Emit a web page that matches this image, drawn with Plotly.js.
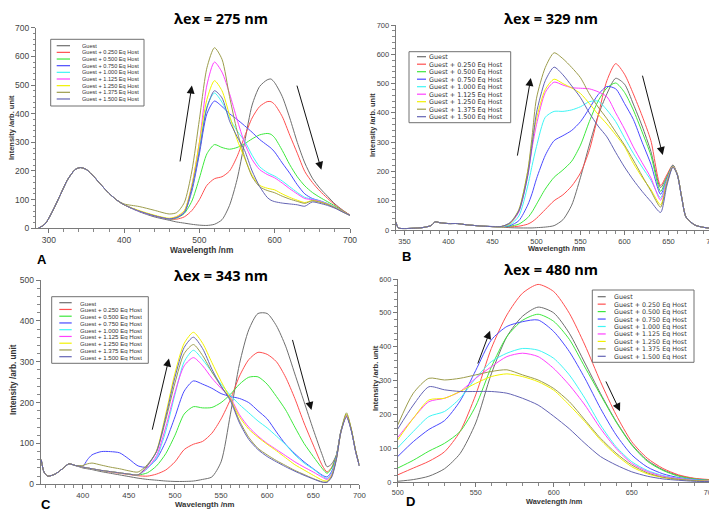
<!DOCTYPE html>
<html><head><meta charset="utf-8">
<script src="https://cdn.plot.ly/plotly-3.0.1.min.js"></script>
<style>html,body{margin:0;padding:0;overflow:hidden;background:#fff;width:709px;height:511px}</style>
</head><body><div id="chart" style="width:730px;height:511px"></div>
<script>
// ---------- series names ----------
const seriesNames = ['Guest','Guest + 0.250 Eq Host','Guest + 0.500 Eq Host','Guest + 0.750 Eq Host',
  'Guest + 1.000 Eq Host','Guest + 1.125 Eq Host','Guest + 1.250 Eq Host','Guest + 1.375 Eq Host','Guest + 1.500 Eq Host'];
const panelTitles = ['λex = 275 nm','λex = 329 nm','λex = 343 nm','λex = 480 nm'];
const panelLetters = ['A','B','C','D'];

// ---------- Panel A (λex = 275 nm) ----------
const xA = [286,295,305,315,325,335,342,350,360,370,380,390,400,420,440,460,470,480,490,500,510,520,530,540,550,560,570,580,590,595,600,610,620,630,640,650,660,670,680,690,700];
const A_g    = [0,15,60,115,170,205,212,205,180,150,122,99,82,58,40,28,22,18,14,11,10,14,30,80,170,300,430,495,518,521,508,460,385,300,228,175,140,112,85,64,46];
const A_025  = [0,15,60,115,170,205,212,205,180,150,122,99,82,60,44,32,32,40,62,100,150,173,180,200,250,320,385,425,442,442,432,390,325,262,198,160,130,105,82,63,46];
const A_050  = [0,15,60,115,170,205,212,205,180,150,122,99,82,60,44,32,36,52,95,175,260,292,282,276,282,295,312,326,331,328,316,272,222,180,148,125,108,93,78,61,45];
const A_075  = [0,15,60,115,170,205,212,205,180,150,122,99,82,60,44,33,38,55,130,260,400,444,425,400,380,358,335,310,290,280,266,228,192,152,120,104,96,86,73,59,45];
const A_100  = [0,15,60,115,170,205,212,205,180,150,122,99,82,60,44,33,38,57,140,275,425,472,440,385,340,305,255,215,195,188,182,165,145,125,108,102,95,86,73,59,45];
const A_1125 = [0,15,60,115,170,205,212,205,180,150,122,99,82,60,44,33,40,60,150,300,500,580,545,470,380,298,240,205,188,182,176,158,138,120,104,100,94,85,73,59,45];
const A_125  = [0,15,60,115,170,205,212,205,180,150,122,99,82,62,46,35,42,62,150,300,450,515,480,395,310,245,185,150,140,137,134,120,108,98,90,97,92,84,72,58,45];
const A_1375 = [0,15,60,115,170,205,212,205,180,150,122,99,85,76,63,50,55,90,200,380,560,630,590,460,340,250,180,145,132,128,124,112,102,94,87,96,91,83,72,58,45];
const A_150  = [0,15,60,115,170,205,212,205,180,150,122,99,82,60,44,33,38,55,140,270,420,480,455,375,320,272,200,146,108,98,93,88,85,82,77,92,87,80,70,57,45];

// ---------- Panel B (λex = 329 nm) ----------
const xB = [340,343,350,360,370,380,385,390,400,410,420,440,460,470,480,490,495,500,510,520,530,540,550,560,570,580,590,600,610,620,630,641,648,655,660,665,670,680,690,700];
const B_g    = [28,7,5,6,8,15,28,25,22,22,18,13,10,8,7,7,7,8,10,15,35,85,180,290,390,465,518,498,430,355,268,145,182,220,188,110,42,16,9,5];
const B_025  = [28,7,5,6,8,15,28,25,22,22,18,13,11,11,13,20,28,40,70,100,120,150,195,272,390,510,568,532,465,390,305,152,188,222,190,112,44,17,9,5];
const B_050  = [28,7,5,6,8,15,28,25,22,22,18,13,11,13,20,42,62,88,140,180,205,235,290,370,440,485,502,470,410,335,255,132,178,221,190,112,44,17,9,5];
const B_075  = [28,7,5,6,8,15,28,25,22,22,18,13,12,15,32,85,125,175,255,305,322,340,370,415,462,490,482,432,378,300,225,122,172,220,190,112,44,17,9,5];
const B_100  = [28,7,5,6,8,15,28,25,22,22,18,13,12,18,48,150,220,285,385,405,405,410,421,438,440,410,370,315,262,215,170,110,168,218,190,112,44,17,9,5];
const B_1125 = [28,7,5,6,8,15,28,25,22,22,18,13,12,22,62,185,280,360,470,505,495,486,484,482,472,455,400,345,284,230,178,102,165,218,190,112,44,17,9,5];
const B_125  = [28,7,5,6,8,15,28,25,22,22,18,13,12,22,68,200,300,380,480,515,500,485,466,432,395,362,325,285,228,180,138,86,160,217,190,112,44,17,9,5];
const B_1375 = [28,7,5,6,8,15,28,25,22,22,18,13,12,25,70,200,320,450,555,605,585,555,520,465,420,380,335,290,239,185,133,78,158,216,190,112,44,17,9,5];
const B_150  = [28,7,5,6,8,15,28,25,22,22,18,13,12,25,65,185,290,400,510,556,530,492,452,400,355,318,265,215,171,132,97,60,150,214,188,110,44,17,9,5];

// ---------- Panel C (λex = 343 nm) ----------
const xC = [355,358,362,370,378,385,392,400,405,410,420,430,440,450,460,470,480,490,500,510,520,530,540,550,560,570,580,590,600,610,620,630,640,650,660,665,670,675,680,686,691,696,700];
const C_g    = [60,30,20,25,38,50,46,40,38,36,31,27,23,19,15,12,10,8,7,7,8,12,18,55,170,295,378,418,418,388,338,270,202,134,70,43,50,72,130,168,135,80,45];
const C_025  = [60,30,20,25,38,50,46,42,40,38,34,30,27,24,21,20,25,35,55,85,98,105,125,160,207,265,305,323,318,300,262,210,150,96,45,30,42,70,130,168,135,80,45];
const C_050  = [60,30,20,25,38,50,46,42,40,38,34,31,28,25,23,28,45,75,120,172,190,187,188,200,220,245,262,263,245,215,182,140,100,68,38,27,40,70,130,168,135,80,45];
const C_075  = [60,30,20,25,38,50,46,44,60,72,80,80,77,62,45,42,62,105,165,228,253,245,235,222,215,210,200,180,160,128,98,75,55,38,22,18,32,68,130,170,135,80,45];
const C_100  = [60,30,20,25,38,50,46,42,40,38,34,31,28,25,23,38,65,130,220,300,328,305,275,245,218,195,175,155,138,118,97,72,52,37,20,14,28,65,128,170,135,80,45];
const C_1125 = [60,30,20,25,38,50,46,42,40,38,34,31,28,25,23,40,70,140,225,290,310,290,260,235,212,170,140,118,100,85,70,55,42,30,17,12,25,63,128,168,135,80,45];
const C_125  = [60,30,20,25,38,50,46,42,40,38,34,31,28,25,23,45,82,172,272,345,372,345,298,252,210,165,135,115,98,82,65,48,35,22,10,8,22,62,128,172,137,82,46];
const C_1375 = [60,30,20,25,38,50,46,46,50,52,47,42,38,33,30,48,80,158,248,320,342,315,275,240,208,155,115,88,72,58,46,34,24,14,6,6,20,62,130,175,138,82,46];
const C_150  = [60,30,20,25,38,50,46,42,40,38,34,31,28,25,23,45,80,165,262,335,360,332,282,240,205,150,110,85,68,55,43,32,22,13,5,5,18,60,128,165,133,80,45];

// ---------- Panel D (λex = 480 nm) ----------
const xD = [500,510,520,530,540,550,560,570,580,590,600,610,620,630,640,650,660,670,680,690,700];
const D_g    = [3,8,18,40,85,175,320,430,490,517,500,440,352,262,180,112,65,37,20,11,6];
const D_025  = [22,42,62,90,150,258,395,494,558,584,563,499,405,297,199,120,71,41,22,12,8];
const D_050  = [42,65,92,115,150,225,340,430,478,496,475,422,340,258,178,110,62,35,18,10,6];
const D_075  = [76,120,156,182,240,330,420,460,474,479,445,386,307,218,140,81,45,25,14,8,5];
const D_100  = [102,150,194,209,248,307,356,381,395,390,366,317,248,169,105,61,35,20,12,7,5];
const D_1125 = [132,189,238,248,268,307,341,371,381,371,336,287,228,159,100,56,32,18,11,6,4];
const D_125  = [125,189,243,248,268,292,312,320,312,297,272,228,179,125,81,46,25,14,8,5,3];
const D_1375 = [169,263,307,302,307,317,327,332,317,302,277,238,184,130,86,51,28,15,9,5,3];
const D_150  = [157,228,282,273,268,268,268,263,248,228,195,158,115,76,51,31,18,10,6,3,2];

// ---------- styles ----------
const seriesColors = ['#6e6e6e','#ff4f4f','#3de83d','#4a4aff','#3ff5f5','#ff40ff','#f2f200','#9c9c4c','#6464b4'];
const W = 730, H = 511;
const fx = p => p / W, fy = p => 1 - p / H;

const panels = [
  {x: xA, ys: [A_g,A_025,A_050,A_075,A_100,A_1125,A_125,A_1375,A_150]},
  {x: xB, ys: [B_g,B_025,B_050,B_075,B_100,B_1125,B_125,B_1375,B_150]},
  {x: xC, ys: [C_g,C_025,C_050,C_075,C_100,C_1125,C_125,C_1375,C_150]},
  {x: xD, ys: [D_g,D_025,D_050,D_075,D_100,D_1125,D_125,D_1375,D_150]}
];

const traces = [];
panels.forEach((p, i) => {
  const suf = i === 0 ? '' : String(i + 1);
  p.ys.forEach((y, k) => {
    traces.push({type:'scatter', mode:'lines', x:p.x, y:y, name:seriesNames[k],
      xaxis:'x'+suf, yaxis:'y'+suf, showlegend:false, hoverinfo:'skip',
      line:{color:seriesColors[k], width:1, shape:'spline', smoothing:0.7}});
  });
});

const TF = 'Liberation Sans, Arial, sans-serif';
function ax(domainPx, range, dtick, mdtick, fs, anchor, isY) {
  const dom = isY ? [fy(domainPx[1]), fy(domainPx[0])] : [fx(domainPx[0]), fx(domainPx[1])];
  return {domain: dom, range: range, anchor: anchor, dtick: dtick, tick0: 0,
    ticks:'outside', ticklen:isY ? 4 : 3.5, tickwidth:1, tickcolor:'#777',
    showline:true, linecolor:'#7a7a7a', linewidth:1, showgrid:false, zeroline:false,
    tickfont:{family:TF, size:fs, color:'#444'},
    minor:{dtick:mdtick, ticks:'outside', ticklen:2.5, tickcolor:'#888', tickwidth:1, showgrid:false}};
}

const layout = {
  width: W, height: H, margin:{l:0,r:0,t:0,b:0}, paper_bgcolor:'#fff', plot_bgcolor:'#fff', showlegend:false,
  xaxis:  ax([36, 350], [283, 700], 100, 20, 8.5, 'y'),
  yaxis:  ax([27.7, 228.3], [0, 700], 100, 20, 8.5, 'x', true),
  xaxis2: ax([395.7, 712.5], [340, 700], 50, 10, 7.5, 'y2'),
  yaxis2: ax([25, 230], [0, 700], 100, 20, 7.5, 'x2', true),
  xaxis3: ax([40.7, 359.4], [354.4, 700], 50, 10, 7.8, 'y3'),
  yaxis3: ax([280, 484.3], [0, 500], 100, 20, 8.5, 'x3', true),
  xaxis4: ax([397.7, 709.7], [500, 700], 50, 10, 7.2, 'y4'),
  yaxis4: ax([279, 482.3], [0, 600], 100, 20, 7.2, 'x4', true),
  annotations: [], shapes: []
};

// titles
const titlePos = [[221, 18], [551, 18], [221, 275], [551, 269]];
panelTitles.forEach((t, i) => layout.annotations.push({xref:'paper', yref:'paper', x:fx(titlePos[i][0]), y:fy(titlePos[i][1]),
  xanchor:'center', yanchor:'middle', showarrow:false, text:'<b>'+t+'</b>', font:{family:'Open Sans, sans-serif', size:14.5, color:'#000'}}));
// letters
const letterPos = [[42, 259], [406, 256], [46, 504], [410, 501]];
panelLetters.forEach((t, i) => layout.annotations.push({xref:'paper', yref:'paper', x:fx(letterPos[i][0]), y:fy(letterPos[i][1]),
  xanchor:'center', yanchor:'middle', showarrow:false, text:'<b>'+t+'</b>', font:{family:TF, size:13, color:'#000'}}));
// axis titles
const xtPos = [[202, 250.3, 8.3], [557, 248.5, 7.5], [205, 504, 7.8], [554, 501, 7.4]];
const ytPos = [[11, 128, 7.5], [373, 125, 7.4], [13, 380, 8.2], [375, 378, 7.6]];
xtPos.forEach(p => layout.annotations.push({xref:'paper', yref:'paper', x:fx(p[0]), y:fy(p[1]), xanchor:'center', yanchor:'middle',
  showarrow:false, text:'<b>Wavelength /nm</b>', font:{family:TF, size:p[2], color:'#333'}, borderpad:0}));
ytPos.forEach(p => layout.annotations.push({xref:'paper', yref:'paper', x:fx(p[0]), y:fy(p[1]), xanchor:'center', yanchor:'middle',
  textangle:-90, showarrow:false, text:'<b>Intensity /arb. unit</b>', font:{family:TF, size:p[2], color:'#333'}, borderpad:0}));

// legends (drawn manually: compact rows)
const DJ = 'DejaVu Sans, sans-serif';
const legends = [
  {box:[50.7, 39.3, 144, 106], row0:45.7, dy:6.66, lx:[56.7, 70], tx:80.5, fs:5.6, ff:TF},
  {box:[409, 51.7, 510.7, 122.7], row0:56.7, dy:7.5, lx:[417, 426], tx:428.5, fs:6.4, ff:DJ},
  {box:[51.7, 296.7, 148.3, 363.3], row0:302.7, dy:6.75, lx:[59.3, 71.7], tx:79, fs:6.1, ff:TF},
  {box:[592.3, 290, 694, 362.3], row0:296.7, dy:7.45, lx:[597.7, 605.7], tx:612.5, fs:6.35, ff:DJ}
];
legends.forEach(L => {
  layout.shapes.push({type:'rect', xref:'paper', yref:'paper', x0:fx(L.box[0]), x1:fx(L.box[2]), y0:fy(L.box[3]), y1:fy(L.box[1]),
    line:{color:'#707070', width:1}});
  seriesNames.forEach((n, k) => {
    const yy = L.row0 + k * L.dy;
    layout.shapes.push({type:'line', xref:'paper', yref:'paper', x0:fx(L.lx[0]), x1:fx(L.lx[1]), y0:fy(yy), y1:fy(yy),
      line:{color:seriesColors[k], width:1.2}});
    layout.annotations.push({xref:'paper', yref:'paper', x:fx(L.tx), y:fy(yy), xanchor:'left', yanchor:'middle', showarrow:false,
      text:n, font:{family:L.ff, size:L.fs, color:'#333'}, borderpad:0, height:L.dy - 0.3, valign:'middle'});
  });
});

// arrows (data coordinates of each panel)
const arrows = [
  ['', [474, 228], [490, 498]], ['', [629, 503], [662, 204]],
  ['2', [478, 249], [493.5, 519]], ['2', [620, 532], [643.5, 256]],
  ['3', [475, 130], [493.5, 308]], ['3', [627, 357], [648, 182]],
  ['4', [551, 346], [559.2, 447]], ['4', [633, 302], [642.5, 210]]
];
arrows.forEach(a => layout.annotations.push({xref:'x'+a[0], yref:'y'+a[0], axref:'x'+a[0], ayref:'y'+a[0],
  x:a[2][0], y:a[2][1], ax:a[1][0], ay:a[1][1], text:'', showarrow:true, arrowhead:2, arrowsize:1.6, arrowwidth:1, arrowcolor:'#111'}));

Plotly.newPlot('chart', traces, layout, {displayModeBar:false, staticPlot:true});
</script></body></html>
